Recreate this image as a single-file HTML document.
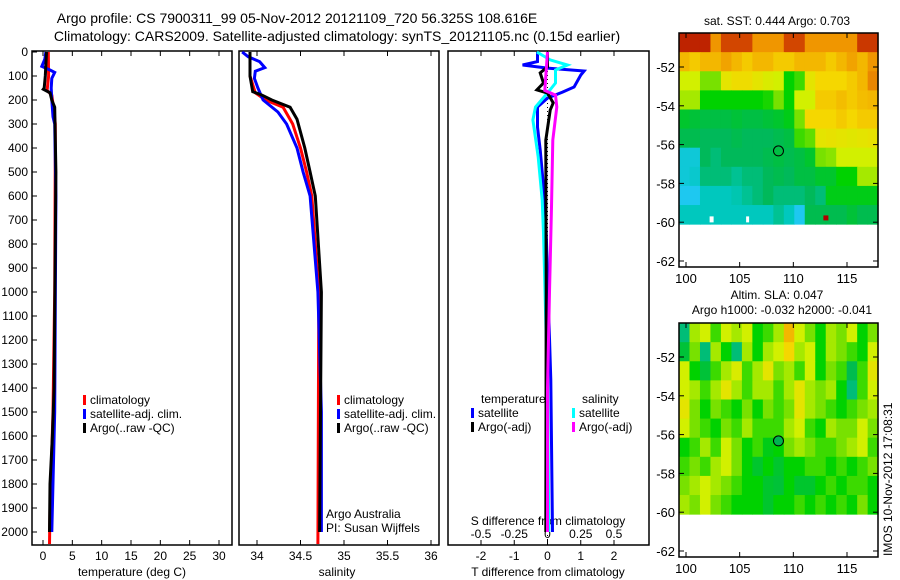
<!DOCTYPE html>
<html><head><meta charset="utf-8">
<style>
html,body{margin:0;padding:0;background:#fff;}
svg{display:block;font-family:"Liberation Sans",Arial,sans-serif;}
text{fill:#000;}
</style></head>
<body>
<svg id="fig" width="900" height="580" viewBox="0 0 900 580" xmlns="http://www.w3.org/2000/svg">
<g font-size="14">
<text x="297" y="23" text-anchor="middle">Argo profile: CS 7900311_99 05-Nov-2012 20121109_720 56.325S 108.616E</text>
<text x="337" y="41" text-anchor="middle">Climatology: CARS2009. Satellite-adjusted climatology: synTS_20121105.nc (0.15d earlier)</text>
</g>
<g id="layer"></g>
</svg>
<script>
// ---------- data ----------
const tDepthClim=[0,100,160,180,250,300,400,1000,1500,1900,2050];
const tClim=[0.9,0.95,0.7,1.5,1.9,2.1,2.1,2.0,1.7,1.2,1.1];
const tDepthSat=[0,30,60,75,85,110,150,200,270,300,600,1500,2000];
const tSat=[0.5,0.3,-0.2,1.2,2.0,1.5,1.4,1.5,1.7,2.0,2.2,2.0,1.5];
const tDepthArgo=[0,50,100,150,155,170,200,230,500,1400,1600,1800,2000];
const tArgo=[0.6,0.5,0.4,0.2,0.05,1.2,1.5,2.0,2.2,1.9,1.6,1.2,1.1];
const tTicks=[0,5,10,15,20,25,30];

const sDepthClim=[0,100,170,200,230,300,400,500,600,1000,2050];
const sClim=[33.92,33.92,33.98,34.1,34.3,34.41,34.5,34.57,34.63,34.71,34.70];
const sDepthSat=[0,20,40,65,80,110,150,200,250,300,400,500,600,1000,1500,2000];
const sSat=[33.83,33.9,34.03,34.09,33.98,33.97,34.01,34.07,34.24,34.34,34.46,34.53,34.61,34.70,34.74,34.74];
const sDepthArgo=[0,100,165,180,200,230,280,400,500,600,1000,2000];
const sArgo=[33.92,33.92,33.95,34.06,34.17,34.38,34.46,34.55,34.61,34.67,34.74,34.72];
const sTicks=[34,34.5,35,35.5,36];
const depthTicks=[0,100,200,300,400,500,600,700,800,900,1000,1100,1200,1300,1400,1500,1600,1700,1800,1900,2000];

const dtDepthSat=[0,40,54,67,79,96,146,167,192,229,313,408,546,700,1367,2000];
const dtSat=[-0.3,-0.3,-0.75,0.0,1.1,1.0,0.8,0.45,0.0,-0.3,-0.3,-0.22,-0.13,-0.05,0.1,0.15];
const dtDepthArgo=[0,62,87,129,158,171,212,242,367,1000,2000];
const dtArgo=[0,0,-0.22,-0.12,-0.32,0,0.17,0.08,-0.05,-0.04,-0.05];
const dsDepthSat=[0,33,54,75,129,171,229,283,438,617,754,1400,2000];
const dsSat=[-0.08,0.02,0.15,0.06,0.06,0,-0.09,-0.11,-0.07,-0.04,-0.03,0.0,0.01];
const dsDepthArgo=[0,160,180,229,367,646,1000,1400,2000];
const dsArgo=[0,-0.02,0.06,0.07,0.04,0.03,0.015,0,0];
const dtTicks=[-2,-1,0,1,2];
const dsTicks=[-0.5,-0.25,0,0.25,0.5];
const dsTickLabels=["-0.5","-0.25","0","0.25","0.5"];

const lonTicks=[100,105,110,115];
const latTicks=[-52,-54,-56,-58,-60,-62];
const sstGrid=[
[.95,.95,.95,.8,.9,.9,.9,.8,.8,.8,.9,.9,.8,.8,.8,.8,.8,.92,.92],
[.75,.72,.75,.75,.78,.75,.72,.75,.75,.72,.72,.75,.75,.75,.72,.75,.78,.75,.8],
[.6,.6,.5,.5,.65,.68,.68,.65,.62,.6,.4,.45,.65,.7,.7,.7,.72,.75,.82],
[.55,.55,.4,.4,.4,.4,.4,.4,.42,.5,.4,.6,.6,.72,.72,.74,.72,.74,.75],
[.36,.35,.34,.34,.34,.35,.34,.34,.35,.36,.38,.5,.7,.7,.7,.72,.7,.72,.72],
[.33,.33,.32,.32,.32,.33,.32,.32,.32,.33,.34,.45,.48,.65,.66,.65,.64,.65,.66],
[.2,.2,.32,.3,.32,.32,.32,.32,.33,.34,.33,.34,.36,.5,.52,.6,.6,.6,.6],
[.2,.22,.3,.3,.3,.28,.3,.3,.32,.33,.32,.34,.34,.36,.36,.4,.4,.55,.55],
[.15,.15,.25,.25,.25,.26,.28,.3,.32,.3,.3,.3,.32,.3,.38,.38,.38,.38,.38],
[.25,.25,.25,.25,.25,.25,.25,.25,.25,.28,.25,.15,.33,.33,.33,.33,.35,.33,.33]];
const slaGrid=[
[.3,.55,.6,.45,.6,.55,.6,.4,.45,.55,.75,.6,.5,.4,.55,.5,.6,.4,.5],
[.35,.5,.3,.55,.4,.3,.55,.4,.55,.6,.7,.55,.6,.4,.55,.5,.45,.4,.6],
[.6,.4,.35,.45,.55,.62,.45,.55,.65,.5,.55,.45,.6,.4,.5,.45,.33,.45,.65],
[.6,.55,.45,.55,.65,.55,.45,.55,.55,.45,.55,.65,.55,.5,.55,.4,.3,.45,.6],
[.65,.5,.4,.5,.45,.4,.5,.4,.5,.45,.5,.65,.55,.5,.45,.4,.45,.5,.55],
[.6,.5,.45,.4,.5,.45,.55,.45,.45,.45,.55,.6,.45,.4,.55,.5,.5,.6,.5],
[.4,.45,.55,.45,.6,.5,.4,.45,.38,.4,.5,.55,.5,.45,.45,.5,.55,.6,.45],
[.45,.5,.45,.55,.6,.5,.4,.36,.4,.36,.4,.4,.45,.45,.4,.45,.4,.45,.5],
[.5,.55,.6,.55,.5,.45,.4,.4,.36,.35,.4,.36,.36,.4,.45,.4,.45,.45,.4],
[.55,.5,.6,.5,.45,.4,.4,.4,.36,.4,.4,.45,.4,.45,.4,.45,.4,.5,.4]];
const argoLon=108.616, argoLat=-56.325;

// ---------- helpers ----------
const NS="http://www.w3.org/2000/svg";
const layer=document.getElementById('layer');
function mk(tag,attrs,parent){const e=document.createElementNS(NS,tag);for(const k in attrs)e.setAttribute(k,attrs[k]);(parent||layer).appendChild(e);return e;}
function txt(x,y,s,anchor,size,parent){const t=mk('text',{x:x,y:y,'text-anchor':anchor||'start','font-size':size||12},parent);t.textContent=s;return t;}
function lin(d0,d1,p0,p1){return v=>p0+(v-d0)*(p1-p0)/(d1-d0);}

const yDepth=lin(0,2000,52,532);
const PTOP=51, PBOT=545;

function panel(name,x0,x1){
  const g=mk('g',{});
  
  
  mk('rect',{x:x0,y:PTOP,width:x1-x0,height:PBOT-PTOP,fill:'none',stroke:'#000','stroke-width':1.5},g);
  return g;
}
function profile(g,name,xs,depths,xf,color){
  const pts=xs.map((v,i)=>xf(v).toFixed(1)+','+yDepth(depths[i]).toFixed(1)).join(' ');
  const p=mk('polyline',{points:pts,fill:'none',stroke:color,'stroke-width':3,'stroke-linejoin':'miter'},g);
  
  
}
function xTicks(g,ticks,labels,xf,labelY){
  ticks.forEach((t,i)=>{
    const x=xf(t);
    mk('line',{x1:x,y1:PTOP,x2:x,y2:PTOP+5,stroke:'#000'},g);
    mk('line',{x1:x,y1:PBOT,x2:x,y2:PBOT-5,stroke:'#000'},g);
    if(labelY){const l=txt(x,labelY,labels[i],'middle',12,g);
      
      }
  });
}
function legendEntry(g,x,y,color,label){
  mk('rect',{x:x,y:y-9,width:3,height:10,fill:color},g);
  const t=txt(x+7,y,label,'start',12,g);
  
  
}

// ---------- panel 1: temperature ----------
const xT=lin(0,30,43,219);
const p1=panel('temperature-panel',32,232);
depthTicks.forEach(d=>{
  const y=yDepth(d);
  mk('line',{x1:32,y1:y,x2:37,y2:y,stroke:'#000'},p1);
  const l=txt(28,y+4,String(d),'end',12,p1);
  
  
});
xTicks(p1,tTicks,tTicks.map(String),xT,560);
const t1=txt(132,576,'temperature (deg C)','middle',12,p1);


profile(p1,'temp-climatology-line',tClim,tDepthClim,xT,'#ff0000');
profile(p1,'temp-satellite-line',tSat,tDepthSat,xT,'#0000ff');
profile(p1,'temp-argo-line',tArgo,tDepthArgo,xT,'#000000');
const lg1=mk('g',{},p1);


legendEntry(lg1,83,404,'#ff0000','climatology');
legendEntry(lg1,83,418,'#0000ff','satellite-adj. clim.');
legendEntry(lg1,83,432,'#000000','Argo(..raw -QC)');

// ---------- panel 2: salinity ----------
const xS=lin(34,36,257,431);
const p2=panel('salinity-panel',239,439);
xTicks(p2,sTicks,sTicks.map(String),xS,560);
const t2=txt(337,576,'salinity','middle',12,p2);


profile(p2,'sal-climatology-line',sClim,sDepthClim,xS,'#ff0000');
profile(p2,'sal-satellite-line',sSat,sDepthSat,xS,'#0000ff');
profile(p2,'sal-argo-line',sArgo,sDepthArgo,xS,'#000000');
const lg2=mk('g',{},p2);


legendEntry(lg2,337,404,'#ff0000','climatology');
legendEntry(lg2,337,418,'#0000ff','satellite-adj. clim.');
legendEntry(lg2,337,432,'#000000','Argo(..raw -QC)');
const cr=mk('g',{},p2);


txt(326,518,'Argo Australia','start',12,cr);
txt(326,532,'PI: Susan Wijffels','start',12,cr);

// ---------- panel 3: differences ----------
const xDT=lin(-2,2,481,614);
const xDS=lin(-0.5,0.5,481,614);
const p3=panel('difference-panel',448,649);
xTicks(p3,dtTicks,dtTicks.map(String),xDT,560);
dsTicks.forEach((t,i)=>{const l=txt(xDS(t),538,dsTickLabels[i],'middle',12,p3);
  
  });
const sdt=txt(548,525,'S difference from climatology','middle',12,p3);


const tdt=txt(548,576,'T difference from climatology','middle',12,p3);


mk('line',{x1:xDT(0),y1:PTOP,x2:xDT(0),y2:PBOT,stroke:'#000','stroke-width':1,'stroke-dasharray':'1,3'},p3);
profile(p3,'dt-satellite-line',dtSat,dtDepthSat,xDT,'#0000ff');
profile(p3,'ds-satellite-line',dsSat,dsDepthSat,xDS,'#00ffff');
profile(p3,'dt-argo-line',dtArgo,dtDepthArgo,xDT,'#000000');
profile(p3,'ds-argo-line',dsArgo,dsDepthArgo,xDS,'#ff00ff');
const lg3=mk('g',{},p3);


txt(481,403,'temperature','start',12,lg3);
txt(582,403,'salinity','start',12,lg3);
legendEntry(lg3,471,417,'#0000ff','satellite');
legendEntry(lg3,471,431,'#000000','Argo(-adj)');
legendEntry(lg3,572,417,'#00ffff','satellite');
legendEntry(lg3,572,431,'#ff00ff','Argo(-adj)');

// ---------- maps ----------
const stops=[[0,[0,60,255]],[0.15,[30,200,240]],[0.25,[0,200,190]],[0.32,[0,185,90]],[0.4,[0,210,0]],[0.5,[120,225,0]],[0.6,[210,240,0]],[0.7,[245,215,0]],[0.8,[240,150,0]],[0.9,[210,70,0]],[1,[170,0,0]]];
function cmap(v){
  for(let i=1;i<stops.length;i++){if(v<=stops[i][0]){const a=stops[i-1],b=stops[i];const f=(v-a[0])/(b[0]-a[0]);
    const c=a[1].map((x,k)=>Math.round(x+(b[1][k]-x)*f));return 'rgb('+c.join(',')+')';}}
  return 'rgb(170,0,0)';
}
const xLon=lin(100,115,686,847);
function map(name,top,grid,title1,title2){
  const bottom=top+234;
  const yLat=lin(-52,-62,top+34,top+228);
  const g=mk('g',{});
  
  
  const lonE=[99.35,117.9], latE=[-50.25,-60.1];
  const nr=grid.length,nc=grid[0].length;
  const dLon=(lonE[1]-lonE[0])/nc, dLat=(latE[1]-latE[0])/nr;
  grid.forEach((row,r)=>row.forEach((v,c)=>{
    const x0=xLon(lonE[0]+c*dLon), x1=xLon(lonE[0]+(c+1)*dLon);
    const y0=yLat(latE[0]+r*dLat), y1=yLat(latE[0]+(r+1)*dLat);
    const cell=mk('rect',{x:x0.toFixed(2),y:y0.toFixed(2),width:(x1-x0+0.5).toFixed(2),height:(y1-y0+0.5).toFixed(2),fill:cmap(v)},g);
    
    
  }));
  mk('rect',{x:679,y:top,width:199,height:234,fill:'none',stroke:'#000','stroke-width':1.5},g);
  lonTicks.forEach(l=>{const x=xLon(l);
    mk('line',{x1:x,y1:top,x2:x,y2:top+5,stroke:'#000'},g);
    mk('line',{x1:x,y1:bottom,x2:x,y2:bottom-5,stroke:'#000'},g);
    const t=txt(x,bottom+16,String(l),'middle',13,g);
    
    });
  latTicks.forEach(l=>{const y=yLat(l);
    mk('line',{x1:679,y1:y,x2:684,y2:y,stroke:'#000'},g);
    mk('line',{x1:878,y1:y,x2:873,y2:y,stroke:'#000'},g);
    const t=txt(675,y+5,String(l),'end',13,g);
    
    });
  const m=mk('circle',{cx:xLon(argoLon),cy:yLat(argoLat),r:5,fill:'none',stroke:'#000','stroke-width':1},g);
  
  
  return {g,yLat};
}
const m1=map('sst-map',33,sstGrid);
const mt1=txt(777,25,'sat. SST: 0.444 Argo: 0.703','middle',12,m1.g);


mk('rect',{x:xLon(102.2),y:m1.yLat(-59.7),width:4,height:6,fill:'#fff'},m1.g);
mk('rect',{x:xLon(105.6),y:m1.yLat(-59.7),width:3,height:6,fill:'#fff'},m1.g);
mk('rect',{x:xLon(112.8),y:m1.yLat(-59.65),width:5,height:5,fill:'#b00000'},m1.g);
const m2=map('sla-map',323,slaGrid);
const mt2=txt(777,299,'Altim. SLA: 0.047','middle',12,m2.g);


const mt3=txt(782,314,'Argo h1000: -0.032 h2000: -0.041','middle',12,m2.g);


m2.g.querySelector('circle').setAttribute('fill','#00b450');
const stamp=txt(0,0,'IMOS 10-Nov-2012 17:08:31','start',12);
stamp.setAttribute('transform','translate(892,556) rotate(-90)');


</script>
</body></html>
